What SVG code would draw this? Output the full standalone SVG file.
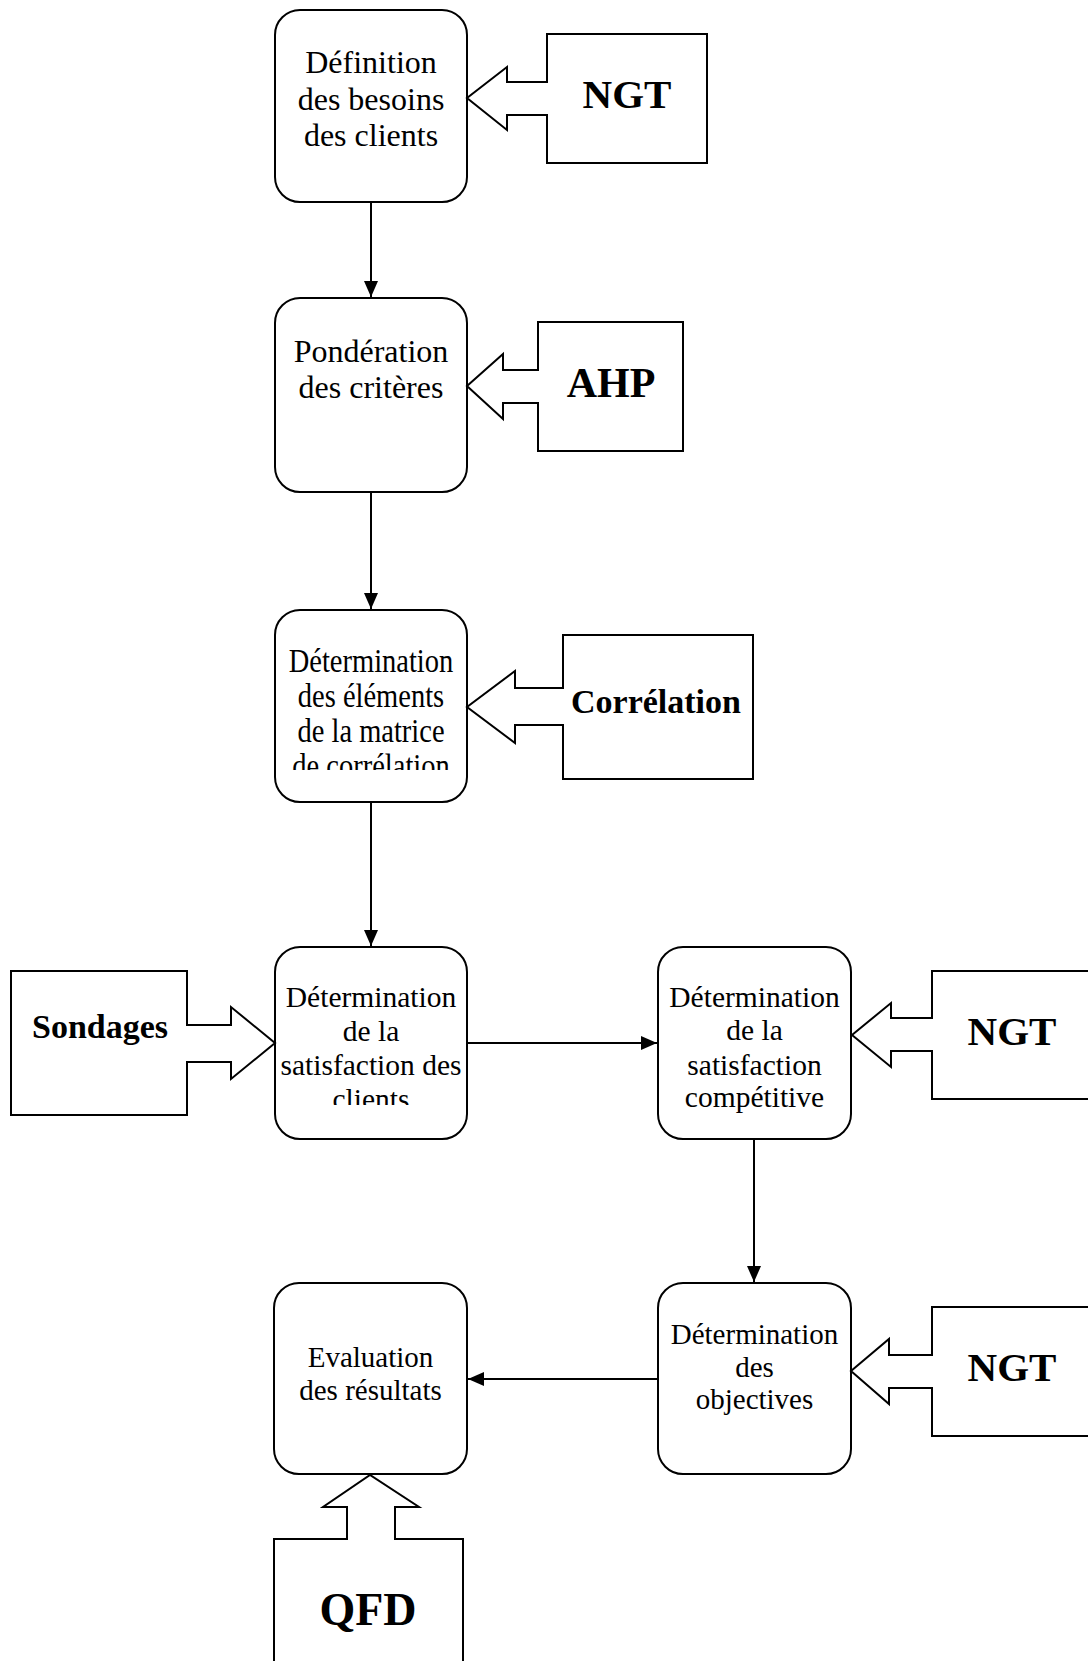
<svg xmlns="http://www.w3.org/2000/svg" width="1088" height="1661" viewBox="0 0 1088 1661">
<style>
.box{fill:#fff;stroke:#000;stroke-width:2}
.tool{fill:#fff;stroke:#000;stroke-width:2;stroke-linejoin:miter}
.t{font-family:"Liberation Serif","Times New Roman",serif;text-anchor:middle;fill:#000}
.b{font-family:"Liberation Serif","Times New Roman",serif;font-weight:bold;text-anchor:middle;fill:#000}
.c{stroke:#000;stroke-width:2;fill:none}
</style>
<defs>
<marker id="ah" markerUnits="userSpaceOnUse" markerWidth="16" markerHeight="14" refX="16" refY="7" orient="auto">
<path d="M0,0 L16,7 L0,14 Z" fill="#000"/>
</marker>
<clipPath id="clip3"><rect x="276" y="611" width="190" height="159"/></clipPath>
<clipPath id="clip4"><rect x="276" y="948" width="190" height="157"/></clipPath>
</defs>
<rect width="1088" height="1661" fill="#fff"/>

<g id="connectors">
<line class="c" x1="371" y1="202" x2="371" y2="297" marker-end="url(#ah)"/>
<line class="c" x1="371" y1="492" x2="371" y2="609" marker-end="url(#ah)"/>
<line class="c" x1="371" y1="802" x2="371" y2="946" marker-end="url(#ah)"/>
<line class="c" x1="467" y1="1043" x2="657" y2="1043" marker-end="url(#ah)"/>
<line class="c" x1="754" y1="1139" x2="754" y2="1282" marker-end="url(#ah)"/>
<line class="c" x1="658" y1="1379" x2="468" y2="1379" marker-end="url(#ah)"/>
</g>

<g id="n1">
<rect class="box" x="275" y="10" width="192" height="192" rx="25"/>
<text class="t" font-size="32" x="371" y="73">Définition</text>
<text class="t" font-size="32" x="371" y="110">des besoins</text>
<text class="t" font-size="32" x="371" y="146">des clients</text>
</g>
<g id="ngt1">
<path class="tool" d="M707,34 H547 V82 H507 V67 L467,98 L507,130 V115 H547 V163 H707 Z"/>
<text class="b" font-size="41" x="627" y="108">NGT</text>
</g>

<g id="n2">
<rect class="box" x="275" y="298" width="192" height="194" rx="25"/>
<text class="t" font-size="32" x="371" y="362">Pondération</text>
<text class="t" font-size="32" x="371" y="398">des critères</text>
</g>
<g id="ahp">
<path class="tool" d="M683,322 H538 V370 H503 V354 L467,386 L503,419 V403 H538 V451 H683 Z"/>
<text class="b" font-size="42" x="611" y="397">AHP</text>
</g>

<g id="n3">
<rect class="box" x="275" y="610" width="192" height="192" rx="25"/>
<g clip-path="url(#clip3)">
<text class="t" font-size="28.5" transform="matrix(1 0 0 1.18 371 672)">Détermination</text>
<text class="t" font-size="28.5" transform="matrix(1 0 0 1.18 371 707)">des éléments</text>
<text class="t" font-size="28.5" transform="matrix(1 0 0 1.18 371 742)">de la matrice</text>
<text class="t" font-size="28.5" transform="matrix(1 0 0 1.18 371 777)">de corrélation</text>
</g>
</g>
<g id="correlation">
<path class="tool" d="M753,635 H563 V688 H515 V671 L467,707 L515,743 V725 H563 V779 H753 Z"/>
<text class="b" font-size="34" x="656" y="713">Corrélation</text>
</g>

<g id="n4">
<rect class="box" x="275" y="947" width="192" height="192" rx="25"/>
<g clip-path="url(#clip4)">
<text class="t" font-size="29.5" x="371" y="1007">Détermination</text>
<text class="t" font-size="29.5" x="371" y="1041">de la</text>
<text class="t" font-size="29.5" x="371" y="1075">satisfaction des</text>
<text class="t" font-size="29.5" x="371" y="1109">clients</text>
</g>
</g>
<g id="sondages">
<path class="tool" d="M11,971 H187 V1025 H231 V1007 L275,1043 L231,1079 V1062 H187 V1115 H11 Z"/>
<text class="b" font-size="34" x="100" y="1038">Sondages</text>
</g>

<g id="n5">
<rect class="box" x="658" y="947" width="193" height="192" rx="25"/>
<text class="t" font-size="29.5" x="754.5" y="1007">Détermination</text>
<text class="t" font-size="29.5" x="754.5" y="1040">de la</text>
<text class="t" font-size="29.5" x="754.5" y="1075">satisfaction</text>
<text class="t" font-size="29.5" x="754.5" y="1107">compétitive</text>
</g>
<g id="ngt2">
<path class="tool" d="M1100,971 H932 V1018 H891 V1003 L852,1035 L891,1067 V1051 H932 V1099 H1100"/>
<text class="b" font-size="41" x="1012" y="1045">NGT</text>
</g>

<g id="n7">
<rect class="box" x="658" y="1283" width="193" height="191" rx="25"/>
<text class="t" font-size="29" x="754.5" y="1344">Détermination</text>
<text class="t" font-size="29" x="754.5" y="1377">des</text>
<text class="t" font-size="29" x="754.5" y="1409">objectives</text>
</g>
<g id="ngt3">
<path class="tool" d="M1100,1307 H932 V1355 H889 V1339 L851,1371 L889,1404 V1388 H932 V1436 H1100"/>
<text class="b" font-size="41" x="1012" y="1381">NGT</text>
</g>

<g id="n6">
<rect class="box" x="274" y="1283" width="193" height="191" rx="25"/>
<text class="t" font-size="29" x="370.5" y="1367">Evaluation</text>
<text class="t" font-size="29" x="370.5" y="1400">des résultats</text>
</g>
<g id="qfd">
<path class="tool" d="M274,1700 V1539 H347 V1507 H323 L370,1475 L419,1507 H395 V1539 H463 V1700"/>
<text class="b" font-size="46" x="368" y="1625">QFD</text>
</g>
</svg>
